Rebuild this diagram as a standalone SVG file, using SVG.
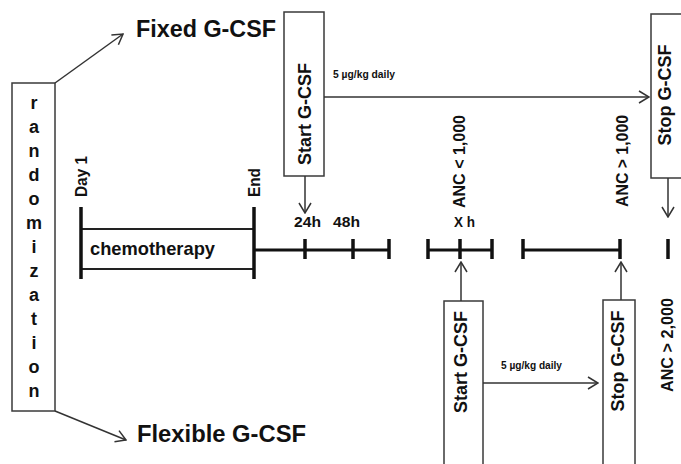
<svg xmlns="http://www.w3.org/2000/svg" width="681" height="464" viewBox="0 0 681 464">
<style>
.box{fill:#fff;stroke:#3a3a3a;stroke-width:1.5}
.t{font-family:"Liberation Sans",Arial,sans-serif;font-weight:bold;fill:#111}
.con{fill:none;stroke:#333;stroke-width:1.5;marker-end:url(#arr)}
.tl{stroke:#111;stroke-width:3;fill:none}
.tk{stroke:#111;stroke-width:3.5;fill:none}
</style>
<defs>
<marker id="arr" viewBox="0 0 12 14" refX="11" refY="7" markerWidth="12" markerHeight="14" markerUnits="userSpaceOnUse" orient="auto">
<path d="M1,1 L11,7 L1,13" fill="none" stroke="#333" stroke-width="1.5"/>
</marker>
</defs>
<rect width="681" height="464" fill="#fff"/>

<g id="randomization">
<rect class="box" x="12" y="83" width="43" height="328"/>
<g class="t" font-size="18" text-anchor="middle">
<text x="34" y="109">r</text>
<text x="34" y="133">a</text>
<text x="34" y="157">n</text>
<text x="34" y="181">d</text>
<text x="34" y="205">o</text>
<text x="34" y="229">m</text>
<text x="34" y="253">i</text>
<text x="34" y="277">z</text>
<text x="34" y="301">a</text>
<text x="34" y="325">t</text>
<text x="34" y="349">i</text>
<text x="34" y="373">o</text>
<text x="34" y="397">n</text>
</g>
</g>

<g id="fixed">
<text class="t" x="136" y="37" font-size="23" textLength="140" lengthAdjust="spacingAndGlyphs">Fixed G-CSF</text>
</g>
<g id="flexible">
<text class="t" x="137" y="442" font-size="24" textLength="169" lengthAdjust="spacingAndGlyphs">Flexible G-CSF</text>
</g>

<g id="start-top">
<rect class="box" x="284" y="12" width="40" height="164"/>
<text class="t" font-size="18" text-anchor="middle" transform="translate(311,114) rotate(-90)">Start G-CSF</text>
</g>
<g id="stop-top">
<rect class="box" x="651" y="14" width="40" height="164"/>
<text class="t" font-size="18" text-anchor="middle" transform="translate(671,95) rotate(-90)">Stop G-CSF</text>
</g>
<g id="start-bottom">
<rect class="box" x="444" y="301" width="39" height="175"/>
<text class="t" font-size="18" text-anchor="middle" transform="translate(467,362) rotate(-90)">Start G-CSF</text>
</g>
<g id="stop-bottom">
<rect class="box" x="603" y="300" width="32" height="176"/>
<text class="t" font-size="18" text-anchor="middle" transform="translate(624,361) rotate(-90)">Stop G-CSF</text>
</g>

<g id="chemotherapy">
<rect x="81" y="229" width="173" height="40" fill="#fff" stroke="#222" stroke-width="2"/>
<line class="tk" x1="81" y1="207" x2="81" y2="279" stroke-width="4"/>
<line class="tk" x1="254" y1="207" x2="254" y2="279" stroke-width="4"/>
<text class="t" x="90" y="255" font-size="19" textLength="125" lengthAdjust="spacingAndGlyphs">chemotherapy</text>
<text class="t" font-size="16" transform="translate(87,197) rotate(-90)" textLength="41" lengthAdjust="spacingAndGlyphs">Day 1</text>
<text class="t" font-size="16" transform="translate(260,197) rotate(-90)" textLength="29" lengthAdjust="spacingAndGlyphs">End</text>
</g>

<g id="timeline">
<line class="tl" x1="254" y1="250" x2="389" y2="250"/>
<line class="tk" x1="305" y1="239" x2="305" y2="259"/>
<line class="tk" x1="353" y1="239" x2="353" y2="259"/>
<line class="tk" x1="389" y1="239" x2="389" y2="259"/>
<line class="tl" x1="428" y1="250" x2="492" y2="250"/>
<line class="tk" x1="428" y1="239" x2="428" y2="259"/>
<line class="tk" x1="460" y1="239" x2="460" y2="259"/>
<line class="tk" x1="492" y1="239" x2="492" y2="259"/>
<line class="tl" x1="523" y1="250" x2="620" y2="250"/>
<line class="tk" x1="523" y1="239" x2="523" y2="259"/>
<line class="tk" x1="620" y1="239" x2="620" y2="259"/>
<line class="tk" x1="668" y1="239" x2="668" y2="259"/>
<text class="t" x="294" y="227" font-size="15" textLength="27" lengthAdjust="spacingAndGlyphs">24h</text>
<text class="t" x="333" y="227" font-size="15" textLength="27" lengthAdjust="spacingAndGlyphs">48h</text>
<text class="t" x="454" y="227" font-size="15" textLength="21" lengthAdjust="spacingAndGlyphs">X h</text>
<text class="t" font-size="16" transform="translate(465,208) rotate(-90)" textLength="93" lengthAdjust="spacingAndGlyphs">ANC &lt; 1,000</text>
<text class="t" font-size="16" transform="translate(628,207) rotate(-90)" textLength="92" lengthAdjust="spacingAndGlyphs">ANC &gt; 1,000</text>
<text class="t" font-size="16" transform="translate(673,392) rotate(-90)" textLength="94" lengthAdjust="spacingAndGlyphs">ANC &gt; 2,000</text>
</g>

<g id="connectors">
<line class="con" x1="55" y1="83" x2="123" y2="34"/>
<line class="con" x1="55" y1="411" x2="126" y2="440"/>
<line class="con" x1="305" y1="176" x2="305" y2="213"/>
<line class="con" x1="324" y1="97" x2="649" y2="97"/>
<line class="con" x1="668" y1="178" x2="668" y2="217"/>
<line class="con" x1="461" y1="301" x2="461" y2="262"/>
<line class="con" x1="621" y1="300" x2="621" y2="262"/>
<line class="con" x1="483" y1="383" x2="598" y2="383"/>
<text class="t" x="333" y="78" font-size="10" textLength="62" lengthAdjust="spacingAndGlyphs">5 µg/kg daily</text>
<text class="t" x="501" y="369" font-size="10" textLength="61" lengthAdjust="spacingAndGlyphs">5 µg/kg daily</text>
</g>
</svg>
